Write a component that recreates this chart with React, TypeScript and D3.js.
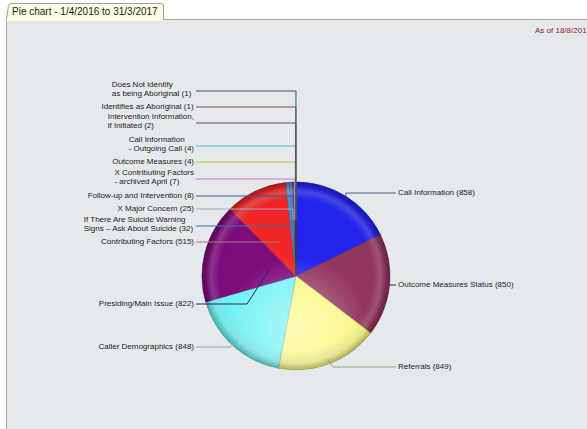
import React, { useMemo } from "react";
import * as d3 from "d3";

// ---- data ----
const categoryLines: string[][] = [
  ["Call Information"],
  ["Outcome Measures Status"],
  ["Referrals"],
  ["Caller Demographics"],
  ["Presiding/Main Issue"],
  ["Contributing Factors"],
  ["If There Are Suicide Warning", "Signs – Ask About Suicide"],
  ["X Major Concern"],
  ["Follow-up and Intervention"],
  ["X Contributing Factors", "- archived April"],
  ["Outcome Measures"],
  ["Call Information", "- Outgoing Call"],
  ["Intervention Information,", "if Initiated"],
  ["Identifies as Aboriginal"],
  ["Does Not identify", "as being Aboriginal "],
];
const counts = [858, 850, 849, 848, 822, 515, 32, 25, 8, 7, 4, 4, 2, 1, 1];
const titleText = "Pie chart - 1/4/2016 to 31/3/2017";
const asOfText = "As of 18/8/2017";

// ---- styles / layout ----
const sliceColors = [
  "#2424f0", "#93365f", "#f8f880", "#70f2f4", "#7d0c7d", "#f02626",
  "#4f8fcf", "#6a82c0", "#2a4aa0", "#c050c0", "#c8c840", "#40c8c8",
  "#703080", "#903040", "#206050",
];
const lineColors = [
  "#4a5a8a", "#5a2040", "#a0a090", "#a0a8a8", "#302060", "#b07070",
  "#4070a0", "#a8a8c8", "#4050a0", "#d070c8", "#c0c040", "#50c0c0",
  "#704080", "#904050", "#306050",
];
type Lay = { side: "L" | "R"; y: number; rho: number; elbow?: number };
const layout: Lay[] = [
  { side: "R", y: 193, rho: 1.0 },
  { side: "R", y: 285, rho: 1.0 },
  { side: "R", y: 367, rho: 0.95, elbow: 333 },
  { side: "L", y: 347, rho: 0.92, elbow: 230 },
  { side: "L", y: 304, rho: 0.29, elbow: 247 },
  { side: "L", y: 242, rho: 0.4 },
  { side: "L", y: 226, rho: 0.6 },
  { side: "L", y: 209, rho: 0.6 },
  { side: "L", y: 196, rho: 0.6 },
  { side: "L", y: 179, rho: 0.6 },
  { side: "L", y: 162, rho: 0.6 },
  { side: "L", y: 146, rho: 0.6 },
  { side: "L", y: 123, rho: 0.6 },
  { side: "L", y: 107, rho: 0.6 },
  { side: "L", y: 91, rho: 0.6 },
];

const W = 587;
const H = 429;
const CX = 296;
const CY = 276;
const R = 94;
const FONT = "'Liberation Sans', Arial, sans-serif";

export default function App() {
  const pieData = useMemo(
    () =>
      d3
        .pie<number>()
        .sort(null)
        .startAngle(0)
        .endAngle(Math.PI * 2)(counts),
    []
  );
  const arc = d3.arc<d3.PieArcDatum<number>>().innerRadius(0).outerRadius(R);

  const labels = categoryLines.map((lines, i) => {
    const out = lines.slice();
    out[out.length - 1] = out[out.length - 1] + " (" + counts[i] + ")";
    return out;
  });

  const measure = useMemo(() => {
    const c = document.createElement("canvas").getContext("2d");
    if (c) c.font = "8px " + FONT;
    return (s: string) => (c ? c.measureText(s).width : s.length * 4.2);
  }, []);

  const leftEdge = 194;
  const rightStart = 398;

  return (
    <svg
      width={W}
      height={H}
      style={{ position: "absolute", left: 0, top: 0, display: "block" }}
      fontFamily={FONT}
    >
      <defs>
        <radialGradient id="rim" gradientUnits="userSpaceOnUse" cx={CX} cy={CY} r={R}>
          <stop offset="0.8" stopColor="#000" stopOpacity="0" />
          <stop offset="0.93" stopColor="#000" stopOpacity="0.08" />
          <stop offset="1" stopColor="#000" stopOpacity="0.3" />
        </radialGradient>
        <radialGradient id="glow" gradientUnits="userSpaceOnUse" cx={CX} cy={CY + R * 0.55} r={R * 0.75}>
          <stop offset="0" stopColor="#fff" stopOpacity="0.45" />
          <stop offset="1" stopColor="#fff" stopOpacity="0" />
        </radialGradient>
        <radialGradient id="ring" gradientUnits="userSpaceOnUse" cx={CX} cy={CY} r={R}>
          <stop offset="0.82" stopColor="#fff" stopOpacity="0" />
          <stop offset="0.9" stopColor="#fff" stopOpacity="0.18" />
          <stop offset="0.96" stopColor="#fff" stopOpacity="0" />
        </radialGradient>
      </defs>

      {/* panel */}
      <rect x={6.5} y={19.5} width={W} height={H} fill="#e6e9ec" stroke="#a8a8a8" />
      {/* tab */}
      <path
        d="M6.5,19.5 L8.5,5.5 Q9,3.5 11,3.5 L161,3.5 Q163.5,3.5 163.5,6 L163.5,19.5"
        fill="#fdfde2"
        stroke="#a0a0a0"
      />
      <rect x={7} y={18} width={156} height={3} fill="#fdfde2" />
      <text x={12} y={15} fontSize={10} fill="#222">
        {titleText}
      </text>
      <text x={535} y={33} fontSize={8} fill="#8b1c1c">
        {asOfText}
      </text>

      {/* pie */}
      <g transform={`translate(${CX},${CY})`}>
        {pieData.map((d, i) => (
          <path
            key={i}
            d={arc(d) || ""}
            fill={sliceColors[i]}
            stroke={d3.color(sliceColors[i])!.darker(0.8).formatHex()}
            strokeWidth={0.6}
          />
        ))}
      </g>
      <circle cx={CX} cy={CY} r={R} fill="url(#glow)" />
      <circle cx={CX} cy={CY} r={R} fill="url(#ring)" />
      <circle cx={CX} cy={CY} r={R} fill="url(#rim)" />

      {/* connectors */}
      {pieData.map((d, i) => {
        const L = layout[i];
        const a = (d.startAngle + d.endAngle) / 2;
        const ax = CX + L.rho * R * Math.sin(a);
        const ay = CY - L.rho * R * Math.cos(a);
        const ex = L.elbow ?? ax;
        const sx = L.side === "L" ? leftEdge + 2 : rightStart - 2;
        const pts: [number, number][] = [
          [sx, L.y],
          [ex, L.y],
          [ax, ay],
        ];
        return (
          <path
            key={i}
            d={d3.line()(pts) || ""}
            fill="none"
            stroke={lineColors[i]}
            strokeWidth={1}
          />
        );
      })}

      {/* labels */}
      {labels.map((lines, i) => {
        const L = layout[i];
        const n = lines.length;
        const maxW = Math.max(...lines.map(measure));
        const x = L.side === "L" ? leftEdge - maxW : rightStart;
        const y0 = n === 1 ? L.y : L.y - 6;
        return (
          <text key={i} fontSize={8} fill="#222" dominantBaseline="middle">
            {lines.map((s, k) => (
              <tspan key={k} x={x} y={y0 + k * 9}>
                {s}
              </tspan>
            ))}
          </text>
        );
      })}
    </svg>
  );
}
